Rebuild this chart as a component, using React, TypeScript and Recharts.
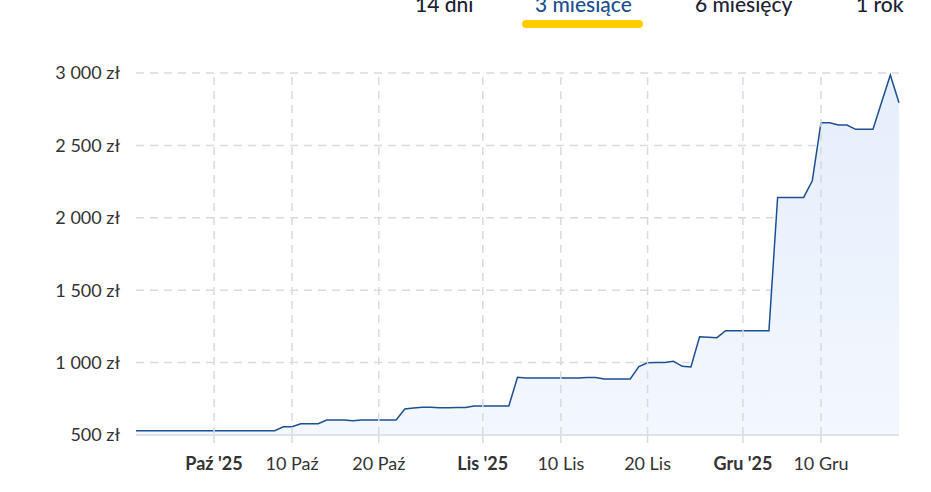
import React from 'react';
import { AreaChart, Area, XAxis, YAxis, CartesianGrid, ReferenceLine } from 'recharts';

const START_DATE = Date.UTC(2025, 8, 22);
const DAY_MS = 86400000;

const priceValues: number[] = [
  530, 530, 530, 530, 530, 530, 530, 530, 530, 530, 530, 530, 530, 530, 530, 530, 530,
  557, 557, 578, 578, 578, 604, 604, 604, 599, 604, 604, 604, 604, 604,
  680, 686, 691, 691, 689, 689, 690, 690, 700, 700, 700, 700, 700,
  898, 893, 893, 893, 894, 894, 894, 894, 897, 897, 887, 887, 887, 887,
  972, 999, 1000, 1001, 1009, 974, 970, 1179, 1175, 1172, 1220, 1220, 1220, 1220, 1220, 1220,
  2141, 2141, 2141, 2141, 2256, 2657, 2657, 2641, 2641, 2611, 2611, 2611, 2800, 2986, 2795,
];

const xTickDates: string[] = ['2025-10-01', '2025-10-10', '2025-10-20', '2025-11-01', '2025-11-10', '2025-11-20', '2025-12-01', '2025-12-10'];
const xTickLabels: string[] = ["Paź '25", '10 Paź', '20 Paź', "Lis '25", '10 Lis', '20 Lis', "Gru '25", '10 Gru'];
const xTickBold: boolean[] = [true, false, false, true, false, false, true, false];

const yTicks: number[] = [500, 1000, 1500, 2000, 2500, 3000];

const tabLabels: string[] = ['14 dni', '3 miesiące', '6 miesięcy', '1 rok'];
const tabLefts: number[] = [415, 535, 695, 856];
const activeTab = 1;

const chartData = priceValues.map((v, i) => ({ t: START_DATE + i * DAY_MS, value: v }));
const xTickValues = xTickDates.map((d) => Date.parse(d + 'T00:00:00Z'));

const formatZl = (v: number) => {
  const s = String(v);
  const withSpace = s.length > 3 ? s.slice(0, s.length - 3) + ' ' + s.slice(s.length - 3) : s;
  return withSpace + ' zł';
};

const FONT = 'Lato, "Noto Sans", sans-serif';
const GRID = '#d6dae1';

const XTick = (props: any) => {
  const { x, y, payload } = props;
  const idx = xTickValues.indexOf(payload.value);
  const label = idx >= 0 ? xTickLabels[idx] : '';
  const bold = idx >= 0 ? xTickBold[idx] : false;
  return (
    <text
      x={x}
      y={y}
      dy="0.71em"
      textAnchor="middle"
      fill="#333333"
      fontFamily={FONT}
      fontSize={18}
      fontWeight={bold ? 700 : 400}
    >
      {label}
    </text>
  );
};

export default function App() {
  return (
    <div style={{ position: 'absolute', left: 0, top: 0, width: 931, height: 492, background: '#ffffff', overflow: 'hidden', fontFamily: FONT }}>
      {tabLabels.map((label, i) => (
        <div
          key={label}
          style={{
            position: 'absolute',
            left: tabLefts[i],
            top: -9,
            fontSize: 21,
            lineHeight: '25px',
            fontWeight: 500,
            color: i === activeTab ? '#1b4f8f' : '#1c2233',
            whiteSpace: 'nowrap',
          }}
        >
          {label}
        </div>
      ))}
      <div style={{ position: 'absolute', left: 522, top: 20, width: 121, height: 8, borderRadius: 4, background: '#ffcc00' }} />
      <div style={{ position: 'absolute', left: 0, top: 0 }}>
        <AreaChart width={931} height={492} data={chartData} margin={{ top: 73, right: 32, bottom: 27, left: 0 }}>
          <defs>
            <linearGradient id="areaFill" x1="0" y1="0" x2="0" y2="1">
              <stop offset="0%" stopColor="#e5eefc" />
              <stop offset="100%" stopColor="#f3f7fe" />
            </linearGradient>
          </defs>
          <CartesianGrid vertical={false} stroke={GRID} strokeWidth={1.5} strokeDasharray="8 6" />
          {xTickValues.map((v) => (
            <ReferenceLine key={v} x={v} stroke={GRID} strokeWidth={1.5} strokeDasharray="8 6" />
          ))}
          <XAxis
            dataKey="t"
            type="number"
            domain={[START_DATE, START_DATE + 88 * DAY_MS]}
            ticks={xTickValues}
            tick={<XTick />}
            tickSize={8}
            tickMargin={14}
            tickLine={{ stroke: GRID, strokeWidth: 1.5, strokeDasharray: '8 6' }}
            axisLine={{ stroke: '#dfe2e8', strokeWidth: 2 }}
            height={30}
            interval={0}
          />
          <YAxis
            type="number"
            domain={[500, 3000]}
            ticks={yTicks}
            tickFormatter={formatZl}
            width={136}
            axisLine={false}
            tickLine={false}
            tickMargin={10}
            tick={{ fill: '#333333', fontSize: 18, fontFamily: FONT }}
            interval={0}
          />
          <Area
            type="linear"
            dataKey="value"
            stroke="#1d4f91"
            strokeWidth={1.5}
            fill="url(#areaFill)"
            fillOpacity={1}
            isAnimationActive={false}
            dot={false}
            activeDot={false}
          />
        </AreaChart>
      </div>
    </div>
  );
}
